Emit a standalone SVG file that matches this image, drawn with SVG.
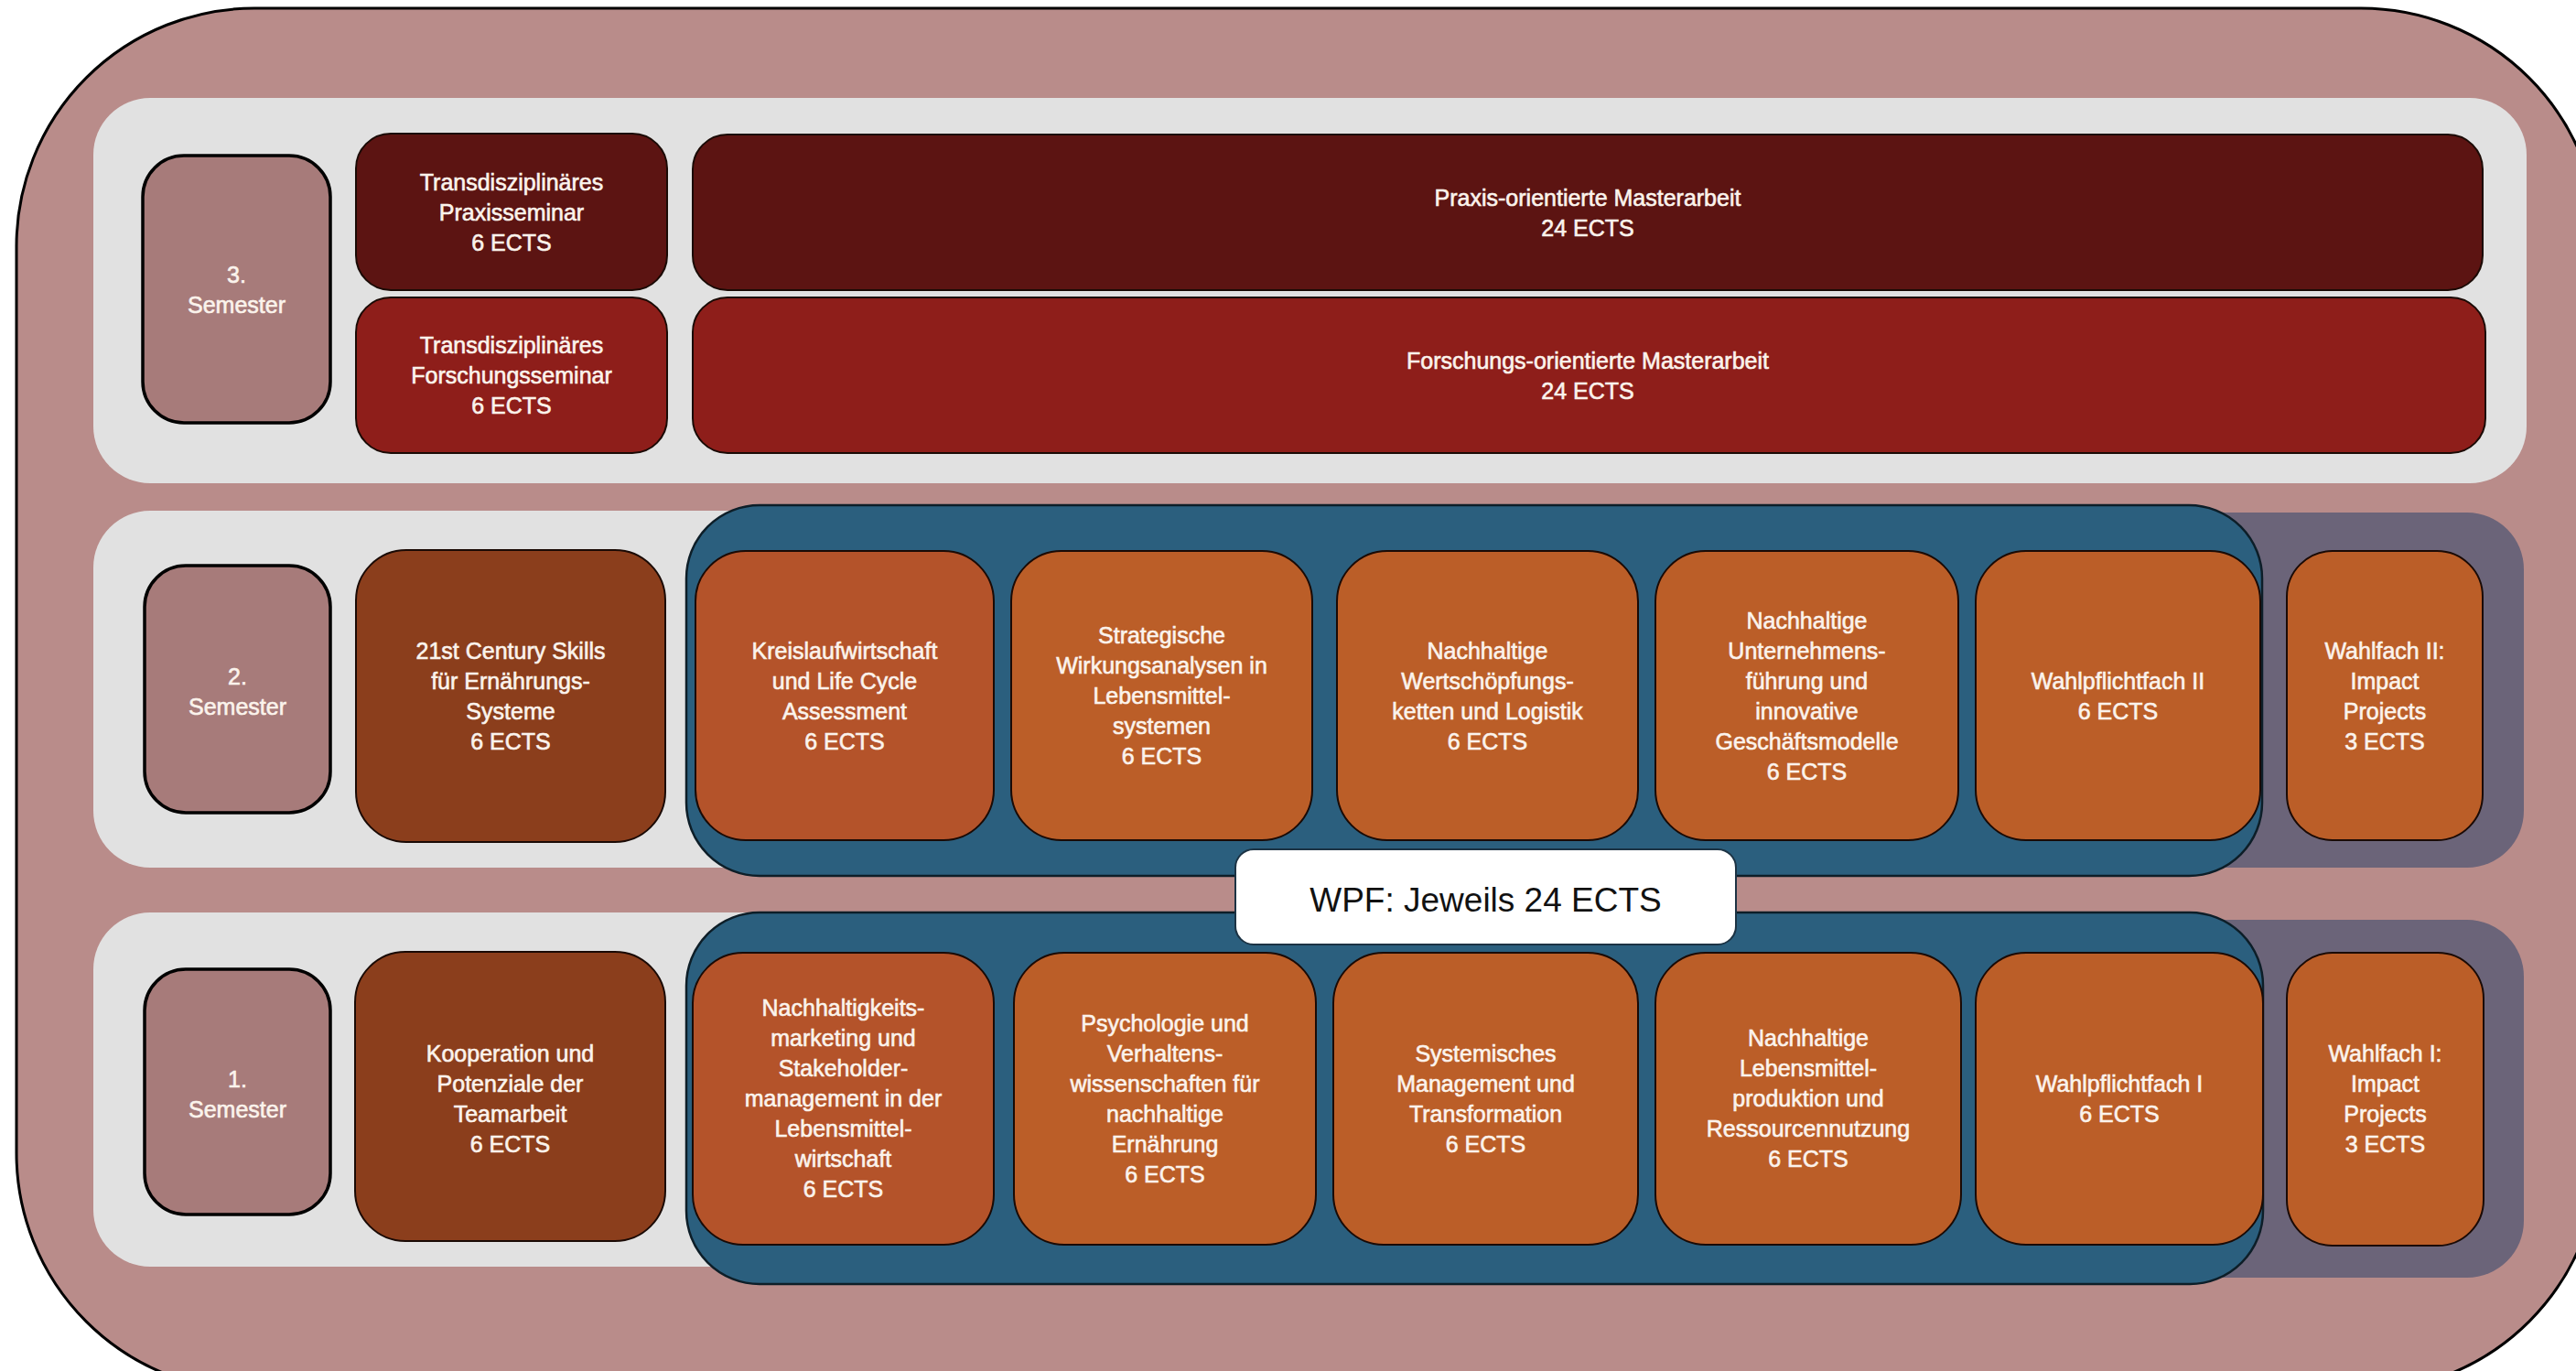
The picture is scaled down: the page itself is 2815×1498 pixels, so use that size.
<svg xmlns="http://www.w3.org/2000/svg" width="2815" height="1498" viewBox="0 0 2815 1498">
<style>
.frame{fill:#B98C8A;stroke:#000;stroke-width:3}
.band{fill:#E1E1E1}
.purple{fill:#6B6479}
.blue{fill:#2B5F7E;stroke:#0d1e28;stroke-width:2.5}
.sem{fill:#A77B7A;stroke:#000;stroke-width:3.5}
.box{stroke:#1a0a05;stroke-width:2}
.dred{fill:#5C1412}
.red{fill:#8E1E1A}
.brown{fill:#8B3E1C}
.or1{fill:#B4532A}
.or2{fill:#BB5E28}
.wpf{fill:#FFFFFF;stroke:#1c3344;stroke-width:2}
text{font-family:"Liberation Sans",Arial,sans-serif;text-anchor:middle}
.t{font-size:25px;fill:#FBF3EC;stroke:#FBF3EC;stroke-width:0.6}
.big{font-size:37px;fill:#111}
</style>
<rect class="frame" x="18" y="9" width="2822" height="1511" rx="260" ry="260"/>
<g id="bands">
<rect class="band" x="102" y="107" width="2659" height="421" rx="62"/>
<rect class="band" x="102" y="558" width="2300" height="390" rx="62"/>
<rect class="purple" x="2300" y="560" width="458" height="388" rx="62"/>
<rect class="band" x="102" y="997" width="2300" height="387" rx="62"/>
<rect class="purple" x="2300" y="1005" width="458" height="391" rx="62"/>
<rect class="blue" x="750" y="552" width="1722" height="405" rx="80"/>
<rect class="blue" x="750" y="997" width="1723" height="406" rx="80"/>
</g>
<g id="connectors"></g>

<g id="sem3">
<rect class="sem" x="156" y="170" width="205" height="292" rx="45"/>
<text class="t"><tspan x="258.5" y="308.5">3.</tspan><tspan x="258.5" y="341.5">Semester</tspan></text>
</g>
<g id="praxisseminar">
<rect class="box dred" x="389" y="146" width="340" height="171" rx="38"/>
<text class="t"><tspan x="559" y="208">Transdisziplinäres</tspan><tspan x="559" y="241">Praxisseminar</tspan><tspan x="559" y="274">6 ECTS</tspan></text>
</g>
<g id="forschungsseminar">
<rect class="box red" x="389" y="325" width="340" height="170" rx="38"/>
<text class="t"><tspan x="559" y="386">Transdisziplinäres</tspan><tspan x="559" y="419">Forschungsseminar</tspan><tspan x="559" y="452">6 ECTS</tspan></text>
</g>
<g id="praxis-masterarbeit">
<rect class="box dred" x="757" y="147" width="1956" height="170" rx="38"/>
<text class="t"><tspan x="1735" y="224.5">Praxis-orientierte Masterarbeit</tspan><tspan x="1735" y="257.5">24 ECTS</tspan></text>
</g>
<g id="forschungs-masterarbeit">
<rect class="box red" x="757" y="325" width="1959" height="170" rx="38"/>
<text class="t"><tspan x="1735" y="402.5">Forschungs-orientierte Masterarbeit</tspan><tspan x="1735" y="435.5">24 ECTS</tspan></text>
</g>

<g id="sem2">
<rect class="sem" x="158" y="618" width="203" height="270" rx="45"/>
<text class="t"><tspan x="259.5" y="747.5">2.</tspan><tspan x="259.5" y="780.5">Semester</tspan></text>
</g>
<g id="skills">
<rect class="box brown" x="389" y="601" width="338" height="319" rx="55"/>
<text class="t"><tspan x="558" y="719.5">21st Century Skills</tspan><tspan x="558" y="752.5">für Ernährungs-</tspan><tspan x="558" y="785.5">Systeme</tspan><tspan x="558" y="818.5">6 ECTS</tspan></text>
</g>
<g id="kreislauf">
<rect class="box or1" x="760" y="602" width="326" height="316" rx="55"/>
<text class="t"><tspan x="923" y="719.5">Kreislaufwirtschaft</tspan><tspan x="923" y="752.5">und Life Cycle</tspan><tspan x="923" y="785.5">Assessment</tspan><tspan x="923" y="818.5">6 ECTS</tspan></text>
</g>
<g id="strategische">
<rect class="box or2" x="1105" y="602" width="329" height="316" rx="55"/>
<text class="t"><tspan x="1269.5" y="703">Strategische</tspan><tspan x="1269.5" y="736">Wirkungsanalysen in</tspan><tspan x="1269.5" y="769">Lebensmittel-</tspan><tspan x="1269.5" y="802">systemen</tspan><tspan x="1269.5" y="835">6 ECTS</tspan></text>
</g>
<g id="wertschoepfung">
<rect class="box or2" x="1461" y="602" width="329" height="316" rx="55"/>
<text class="t"><tspan x="1625.5" y="719.5">Nachhaltige</tspan><tspan x="1625.5" y="752.5">Wertschöpfungs-</tspan><tspan x="1625.5" y="785.5">ketten und Logistik</tspan><tspan x="1625.5" y="818.5">6 ECTS</tspan></text>
</g>
<g id="unternehmensfuehrung">
<rect class="box or2" x="1809" y="602" width="331" height="316" rx="55"/>
<text class="t"><tspan x="1974.5" y="686.5">Nachhaltige</tspan><tspan x="1974.5" y="719.5">Unternehmens-</tspan><tspan x="1974.5" y="752.5">führung und</tspan><tspan x="1974.5" y="785.5">innovative</tspan><tspan x="1974.5" y="818.5">Geschäftsmodelle</tspan><tspan x="1974.5" y="851.5">6 ECTS</tspan></text>
</g>
<g id="wpf2">
<rect class="box or2" x="2159" y="602" width="311" height="316" rx="55"/>
<text class="t"><tspan x="2314.5" y="752.5">Wahlpflichtfach II</tspan><tspan x="2314.5" y="785.5">6 ECTS</tspan></text>
</g>
<g id="wahlfach2">
<rect class="box or2" x="2499" y="602" width="214" height="316" rx="50"/>
<text class="t"><tspan x="2606" y="719.5">Wahlfach II:</tspan><tspan x="2606" y="752.5">Impact</tspan><tspan x="2606" y="785.5">Projects</tspan><tspan x="2606" y="818.5">3 ECTS</tspan></text>
</g>

<g id="wpf-label">
<rect class="wpf" x="1350" y="928" width="547" height="104" rx="20"/>
<text class="big" x="1623.5" y="996">WPF: Jeweils 24 ECTS</text>
</g>

<g id="sem1">
<rect class="sem" x="158" y="1059" width="203" height="268" rx="45"/>
<text class="t"><tspan x="259.5" y="1187.5">1.</tspan><tspan x="259.5" y="1220.5">Semester</tspan></text>
</g>
<g id="kooperation">
<rect class="box brown" x="388" y="1040" width="339" height="316" rx="55"/>
<text class="t"><tspan x="557.5" y="1159.5">Kooperation und</tspan><tspan x="557.5" y="1192.5">Potenziale der</tspan><tspan x="557.5" y="1225.5">Teamarbeit</tspan><tspan x="557.5" y="1258.5">6 ECTS</tspan></text>
</g>
<g id="marketing">
<rect class="box or1" x="757" y="1041" width="329" height="319" rx="55"/>
<text class="t"><tspan x="921.5" y="1110">Nachhaltigkeits-</tspan><tspan x="921.5" y="1143">marketing und</tspan><tspan x="921.5" y="1176">Stakeholder-</tspan><tspan x="921.5" y="1209">management in der</tspan><tspan x="921.5" y="1242">Lebensmittel-</tspan><tspan x="921.5" y="1275">wirtschaft</tspan><tspan x="921.5" y="1308">6 ECTS</tspan></text>
</g>
<g id="psychologie">
<rect class="box or2" x="1108" y="1041" width="330" height="319" rx="55"/>
<text class="t"><tspan x="1273" y="1126.5">Psychologie und</tspan><tspan x="1273" y="1159.5">Verhaltens-</tspan><tspan x="1273" y="1192.5">wissenschaften für</tspan><tspan x="1273" y="1225.5">nachhaltige</tspan><tspan x="1273" y="1258.5">Ernährung</tspan><tspan x="1273" y="1291.5">6 ECTS</tspan></text>
</g>
<g id="systemisches">
<rect class="box or2" x="1457" y="1041" width="333" height="319" rx="55"/>
<text class="t"><tspan x="1623.5" y="1159.5">Systemisches</tspan><tspan x="1623.5" y="1192.5">Management und</tspan><tspan x="1623.5" y="1225.5">Transformation</tspan><tspan x="1623.5" y="1258.5">6 ECTS</tspan></text>
</g>
<g id="lebensmittelproduktion">
<rect class="box or2" x="1809" y="1041" width="334" height="319" rx="55"/>
<text class="t"><tspan x="1976" y="1143">Nachhaltige</tspan><tspan x="1976" y="1176">Lebensmittel-</tspan><tspan x="1976" y="1209">produktion und</tspan><tspan x="1976" y="1242">Ressourcennutzung</tspan><tspan x="1976" y="1275">6 ECTS</tspan></text>
</g>
<g id="wpf1">
<rect class="box or2" x="2159" y="1041" width="314" height="319" rx="55"/>
<text class="t"><tspan x="2316" y="1192.5">Wahlpflichtfach I</tspan><tspan x="2316" y="1225.5">6 ECTS</tspan></text>
</g>
<g id="wahlfach1">
<rect class="box or2" x="2499" y="1041" width="215" height="320" rx="50"/>
<text class="t"><tspan x="2606.5" y="1159.5">Wahlfach I:</tspan><tspan x="2606.5" y="1192.5">Impact</tspan><tspan x="2606.5" y="1225.5">Projects</tspan><tspan x="2606.5" y="1258.5">3 ECTS</tspan></text>
</g>
</svg>
